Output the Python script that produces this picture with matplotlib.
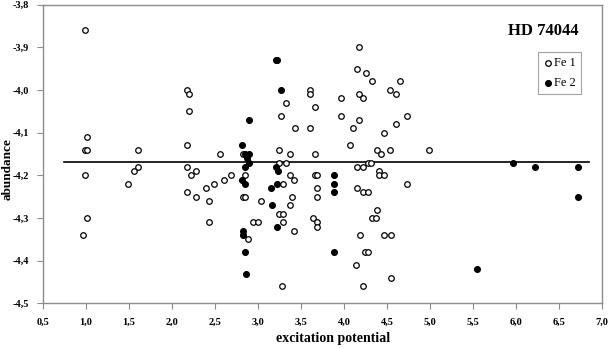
import numpy as np
import matplotlib
matplotlib.use("Agg")
import matplotlib.pyplot as plt
from matplotlib.ticker import FuncFormatter

# Fe 1 lines (open circles)
fe1_x = [0.99, 1.015, 0.99, 1.015, 0.99, 1.015, 0.96, 1.61, 1.56, 1.61, 1.485,
         2.17, 2.20, 2.20, 2.17, 2.17, 2.22, 2.28, 2.17, 2.28, 2.40, 2.49, 2.43,
         2.43, 2.56, 2.61, 2.69, 2.85, 2.83, 2.85, 2.88, 2.94, 3.00, 3.04, 2.83,
         3.24, 3.37, 3.33, 3.24, 3.33, 3.27, 3.43, 3.61, 3.61, 3.61, 3.66, 3.96,
         3.96, 3.37, 3.42, 3.66, 3.69, 3.66, 3.29, 3.40, 3.37, 3.42, 3.24, 3.29,
         3.29, 3.28, 3.69, 3.69, 3.64, 3.69, 3.69, 4.17, 4.15, 4.26, 4.32, 4.65,
         4.54, 4.61, 4.17, 4.22, 4.17, 4.10, 4.73, 4.61, 4.47, 4.07, 4.38, 4.43,
         4.54, 4.99, 4.15, 4.22, 4.28, 4.31, 4.41, 4.41, 4.47, 4.73, 4.15, 4.22,
         4.28, 4.38, 4.32, 4.37, 4.19, 4.47, 4.55, 4.25, 4.28, 4.14, 4.55, 4.22]
fe1_y = [-3.86, -4.11, -4.14, -4.14, -4.20, -4.30, -4.34, -4.14, -4.19, -4.18, -4.22,
         -4.00, -4.01, -4.05, -4.13, -4.18, -4.20, -4.19, -4.24, -4.25, -4.23, -4.22, -4.26,
         -4.31, -4.15, -4.21, -4.20, -4.20, -4.25, -4.25, -4.35, -4.31, -4.31, -4.26, -4.15,
         -4.14, -4.15, -4.17, -4.17, -4.03, -4.06, -4.09, -4.09, -4.00, -4.01, -4.04, -4.02,
         -4.06, -4.20, -4.21, -4.20, -4.20, -4.15, -4.22, -4.25, -4.27, -4.33, -4.29, -4.29,
         -4.31, -4.46, -4.23, -4.25, -4.30, -4.31, -4.32, -3.90, -3.95, -3.96, -3.98, -3.98,
         -4.00, -4.01, -4.01, -4.02, -4.07, -4.09, -4.06, -4.08, -4.10, -4.13, -4.14, -4.15,
         -4.14, -4.14, -4.18, -4.18, -4.17, -4.17, -4.19, -4.20, -4.20, -4.22, -4.23, -4.24,
         -4.24, -4.28, -4.30, -4.30, -4.34, -4.34, -4.34, -4.38, -4.38, -4.41, -4.44, -4.46]

# Fe 2 lines (filled circles)
fe2_x = [3.21, 3.22, 3.27, 2.89, 2.81, 2.85, 2.89, 2.87, 2.89, 2.85, 2.81, 2.85,
         2.83, 2.83, 2.85, 2.86, 3.21, 3.23, 3.22, 3.15, 3.16, 3.22, 3.88, 3.88,
         3.88, 3.88, 5.96, 6.22, 6.72, 6.72, 5.55]
fe2_y = [-3.93, -3.93, -4.00, -4.07, -4.13, -4.15, -4.15, -4.16, -4.17, -4.18, -4.21, -4.22,
         -4.33, -4.34, -4.38, -4.43, -4.18, -4.19, -4.22, -4.23, -4.27, -4.32, -4.20, -4.22,
         -4.24, -4.38, -4.17, -4.18, -4.18, -4.25, -4.42]

mean_abundance = -4.168
mean_range = [0.75, 6.85]

xticks = np.arange(0.5, 7.01, 0.5)
yticks = np.arange(-4.5, -3.79, 0.1)

serif = "Liberation Serif"
grey = "#8c8c8c"

fig = plt.figure(figsize=(6.09, 3.48), dpi=100)
ax = fig.add_axes([0.0706, 0.128, 0.9179, 0.859])

ax.plot(mean_range, [mean_abundance, mean_abundance], color="black", lw=1.2, zorder=1)
ax.scatter(fe1_x, fe1_y, s=16, facecolors="white", edgecolors="black", linewidths=0.9,
           label="Fe 1", zorder=3)
ax.scatter(fe2_x, fe2_y, s=18, facecolors="black", edgecolors="black", linewidths=0.8,
           label="Fe 2", zorder=3)

ax.set_xlim(0.5, 7.0)
ax.set_ylim(-4.5, -3.8)
ax.set_xticks(xticks)
ax.set_yticks(yticks)
comma = FuncFormatter(lambda v, p: f"{v:.1f}".replace(".", ","))
ax.xaxis.set_major_formatter(comma)
ax.yaxis.set_major_formatter(comma)
for lab in ax.get_xticklabels() + ax.get_yticklabels():
    lab.set_family(serif)
    lab.set_fontweight("bold")
    lab.set_fontsize(7.5)
ax.tick_params(direction="out", length=4, width=0.8, color=grey)
ax.tick_params(axis="x", pad=6)
ax.tick_params(axis="y", pad=6)

for sp in ax.spines.values():
    sp.set_color(grey)
    sp.set_linewidth(1.0)

ax.set_xlabel("excitation potential", family=serif, fontweight="bold", fontsize=10)
ax.set_ylabel("abundance", family=serif, fontweight="bold", fontsize=9.5)
ax.xaxis.set_label_coords(0.519, -0.095)
ax.yaxis.set_label_coords(-0.053, 0.45)

ax.text(0.895, 0.91, "HD 74044", transform=ax.transAxes, ha="center", va="center",
        family=serif, fontweight="bold", fontsize=12)

leg = ax.legend(loc="upper right", bbox_to_anchor=(0.962, 0.84), frameon=True,
                fancybox=False, prop={"family": serif, "size": 9}, handletextpad=0.1,
                handlelength=0.8, borderpad=0.4, labelspacing=0.6, borderaxespad=0)
leg.get_frame().set_edgecolor(grey)
leg.get_frame().set_linewidth(0.8)

fig.savefig("out.png", dpi=100)
